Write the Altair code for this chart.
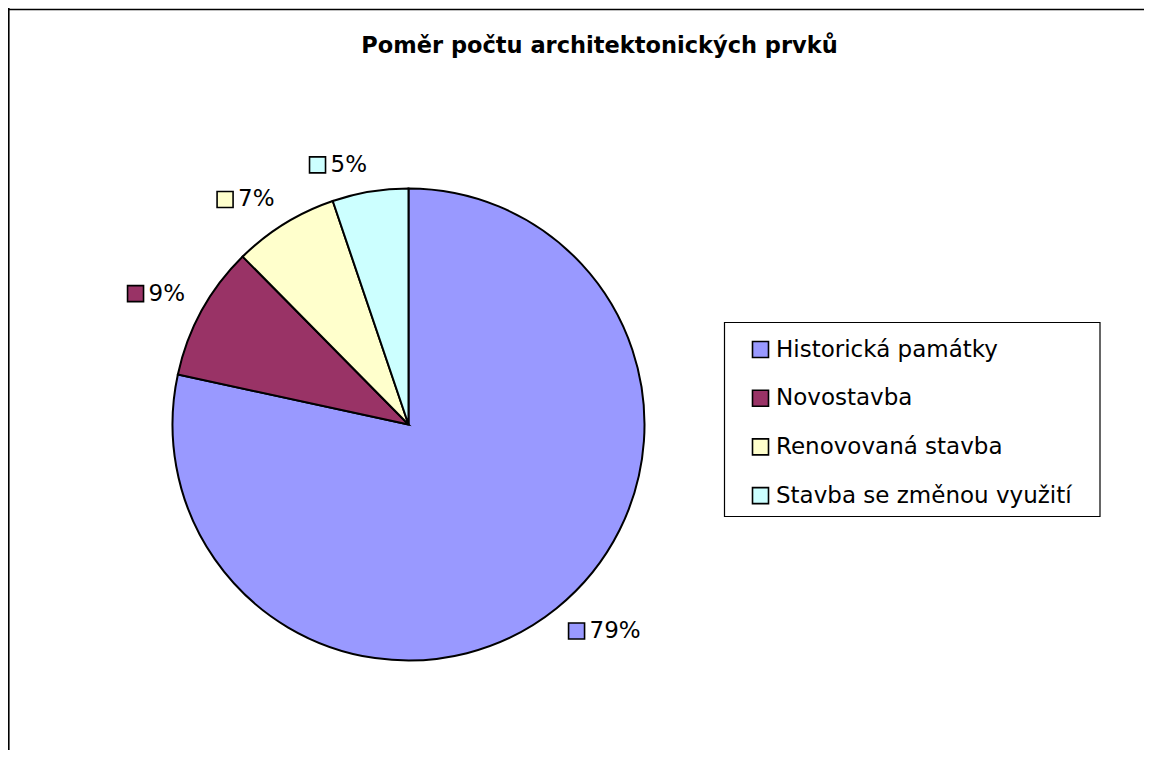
import altair as alt
import pandas as pd

# ---- data ----
categories = ["Historická památky", "Novostavba", "Renovovaná stavba", "Stavba se změnou využití"]
values = [78.4, 9.2, 7.2, 5.2]
labels = ["79%", "9%", "7%", "5%"]
colors = ["#9999FF", "#993366", "#FFFFCC", "#CCFFFF"]
title_text = "Poměr počtu architektonických prvků"

# ---- layout / style ----
W, H = 1136, 742
CX, CY = 400.5, 416.5
R = 236
LR = 255
SQ = 16
BH = 16
GAP = 5
FONT = "DejaVu Sans"
FS = 23

df = pd.DataFrame({"category": categories, "value": values, "label": labels, "order": list(range(len(categories)))})
one = pd.DataFrame({"t": [title_text]})

pie = alt.Chart(df).mark_arc(stroke="black", strokeWidth=2, outerRadius=R).encode(
    theta=alt.Theta("value:Q", stack=True),
    order=alt.Order("order:Q"),
    color=alt.Color(
        "category:N",
        sort=categories,
        scale=alt.Scale(domain=categories, range=colors),
        legend=alt.Legend(
            title=None, orient="none", legendX=741, legendY=330,
            symbolType="square", symbolSize=SQ * SQ, symbolStrokeColor="black",
            symbolStrokeWidth=1.6, symbolOpacity=1,
            labelFont=FONT, labelFontSize=FS, labelColor="black", labelOffset=4,
            labelLimit=500, rowPadding=24.7, padding=0,
        ),
    ),
    x=alt.value(CX),
    y=alt.value(CY),
)

xs = alt.Scale(domain=[-CX, W - CX], nice=False, zero=False)
ys = alt.Scale(domain=[CY - H, CY], nice=False, zero=False)

# label box: its corner nearest the pie sits on a circle of radius LR at the slice's mid angle
lab_base = alt.Chart(df).transform_joinaggregate(
    total="sum(value)"
).transform_window(
    cum="sum(value)", sort=[alt.SortField("order")], frame=[None, 0]
).transform_calculate(
    mid="2*PI*(datum.cum - datum.value/2)/datum.total",
    s="sin(datum.mid)",
    c="cos(datum.mid)",
    w=f"{SQ}+{GAP}+21.9+14.6*(length(datum.label)-1)",
    bx=f"{LR}*datum.s + (datum.s >= 0 ? 1 : -1)*datum.w/2",
    by=f"{LR}*datum.c + (datum.c >= 0 ? 1 : -1)*{BH/2}",
    sqx=f"datum.bx - datum.w/2 + {SQ/2}",
    tx=f"datum.bx - datum.w/2 + {SQ + GAP}",
)

squares = lab_base.mark_point(shape="square", filled=True, size=SQ * SQ, stroke="black",
                              strokeWidth=1.6, opacity=1).encode(
    x=alt.X("sqx:Q", scale=xs, axis=None),
    y=alt.Y("by:Q", scale=ys, axis=None),
    fill=alt.Fill("category:N", scale=alt.Scale(domain=categories, range=colors), legend=None),
)

texts = lab_base.mark_text(align="left", baseline="middle", font=FONT, fontSize=FS, color="black").encode(
    x=alt.X("tx:Q", scale=xs, axis=None),
    y=alt.Y("by:Q", scale=ys, axis=None),
    text="label:N",
)

legend_box = alt.Chart(one).mark_rect(fill="white", fillOpacity=0, stroke="black", strokeWidth=1.2).encode(
    x=alt.value(716.5), x2=alt.value(1092), y=alt.value(314.5), y2=alt.value(508.5)
)

frame_top = alt.Chart(one).mark_rule(color="black", strokeWidth=1.6).encode(
    x=alt.value(0), x2=alt.value(W), y=alt.value(1.5)
)
frame_left = alt.Chart(one).mark_rule(color="black", strokeWidth=1.6).encode(
    x=alt.value(0.8), y=alt.value(0), y2=alt.value(H)
)

title = alt.Chart(one).mark_text(font=FONT, fontSize=22.5, fontWeight="bold", color="black",
                                 align="center", baseline="alphabetic").encode(
    text="t:N", x=alt.value(591.5), y=alt.value(45)
)

chart = alt.layer(legend_box, pie, squares, texts, frame_top, frame_left, title).properties(
    width=W, height=H, padding=0, autosize=alt.AutoSizeParams(type="none"), background="white"
).configure_view(stroke=None)

chart.save("out.html", embed_options={"renderer": "svg", "actions": False})
